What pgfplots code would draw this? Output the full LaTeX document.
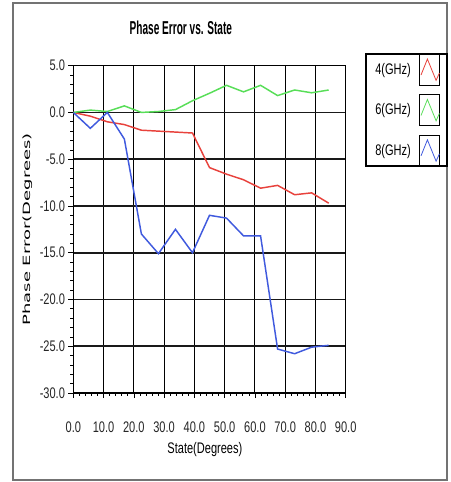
\documentclass[border=0pt]{standalone}
\usepackage{fontspec}
\usepackage{pgfplots}
\pgfplotsset{compat=1.18}
\setmainfont{Liberation Sans}
\newfontfamily\narrowfont{Liberation Sans}[FakeStretch=0.72]
\newfontfamily\titlefont{Liberation Sans}[FakeStretch=0.54]
\newfontfamily\widefont{DejaVu Sans}[FakeStretch=1.8]

\definecolor{lnred}{RGB}{232,66,60}
\definecolor{lngreen}{RGB}{88,222,88}
\definecolor{lnblue}{RGB}{64,90,222}

% phase error per state (6-bit steps of 5.625 deg)
\pgfplotstableread{
x        r      g      b
0        0.0    0.0    0.0
5.625   -0.4    0.25  -1.7
11.25   -1.0    0.1    0.0
16.875  -1.3    0.7   -2.85
22.5    -1.9    0.0  -13.0
28.125  -2.0    0.1  -15.1
33.75   -2.1    0.3  -12.5
39.375  -2.2    1.25 -15.0
45      -5.9    2.05 -11.0
50.625  -6.6    2.9  -11.3
56.25   -7.2    2.2  -13.2
61.875  -8.1    2.9  -13.2
67.5    -7.8    1.8  -25.3
73.125  -8.8    2.4  -25.8
78.75   -8.6    2.1  -25.1
84.375  -9.7    2.4  -24.9
}\phasetab

\begin{document}
\begin{tikzpicture}
% page area and outer frame (1px = 0.75pt, axis box at origin)
\useasboundingbox (-54.98pt,-66.75pt) rectangle (282.53pt,294.75pt);
\fill[white] (-54.98pt,-66.75pt) rectangle (282.53pt,294.75pt);
\draw[black!55, line width=1.1pt] (-45.2pt,-65.2pt) rectangle (280.3pt,292.5pt);
\begin{axis}[
  scale only axis,
  width=204.3pt, height=245.5pt,
  xmin=0, xmax=90, ymin=-30, ymax=5,
  xtick={0,10,...,90}, ytick={-30,-25,...,5},
  minor x tick num=4, minor y tick num=4,
  xtick pos=bottom, ytick pos=left,
  tick align=outside,
  major tick length=3.75pt, minor tick length=2.2pt,
  every tick/.style={black, line width=0.5pt},
  grid=major,
  major x grid style={black, line width=0.7pt},
  major y grid style={black!90, line width=1.2pt},
  axis line style={black, line width=0.8pt},
  /pgf/number format/assume math mode=true,
  /pgf/number format/fixed, /pgf/number format/fixed zerofill,
  /pgf/number format/precision=1,
  tick label style={font=\narrowfont\fontsize{11.5}{13}\selectfont, text=black!85},
  yticklabel style={xshift=1pt},
  xticklabel style={yshift=-14pt},
  title={Phase Error vs. State},
  title style={at={(0.395,1.091)}, anchor=center,
    font=\titlefont\bfseries\fontsize{14}{16}\selectfont},
  xlabel={State(Degrees)},
  xlabel style={at={(0.483,-0.174)}, anchor=center,
    font=\narrowfont\fontsize{11.5}{13}\selectfont},
  ylabel={Phase Error(Degrees)},
  ylabel style={at={(-0.166,0.5)}, anchor=center,
    font=\widefont\fontsize{7.5}{9}\selectfont},
  legend style={at={(1.071,1.039)}, anchor=north west,
    draw=black, line width=1.4pt, inner xsep=5pt, inner ysep=0pt,
    row sep=6.5pt, column sep=4pt,
    font=\narrowfont\fontsize{11.5}{13}\selectfont},
  legend cell align=right,
  legend plot pos=right,
  legend image code/.code={
    \draw[black, line width=0.8pt] (0pt,-11.5pt) rectangle (15pt,11.5pt);
    \draw[#1, line width=0.6pt] (1.2pt,-4pt) -- (6pt,8pt) -- (12.5pt,-8pt) -- (15pt,-2.5pt);
  },
  every axis plot/.append style={line width=1.1pt},
]
\addplot[lnred]   table[x=x, y=r] {\phasetab};
\addplot[lngreen] table[x=x, y=g] {\phasetab};
\addplot[lnblue]  table[x=x, y=b] {\phasetab};
\legend{4(GHz), 6(GHz), 8(GHz)}
\end{axis}
\end{tikzpicture}
\end{document}
